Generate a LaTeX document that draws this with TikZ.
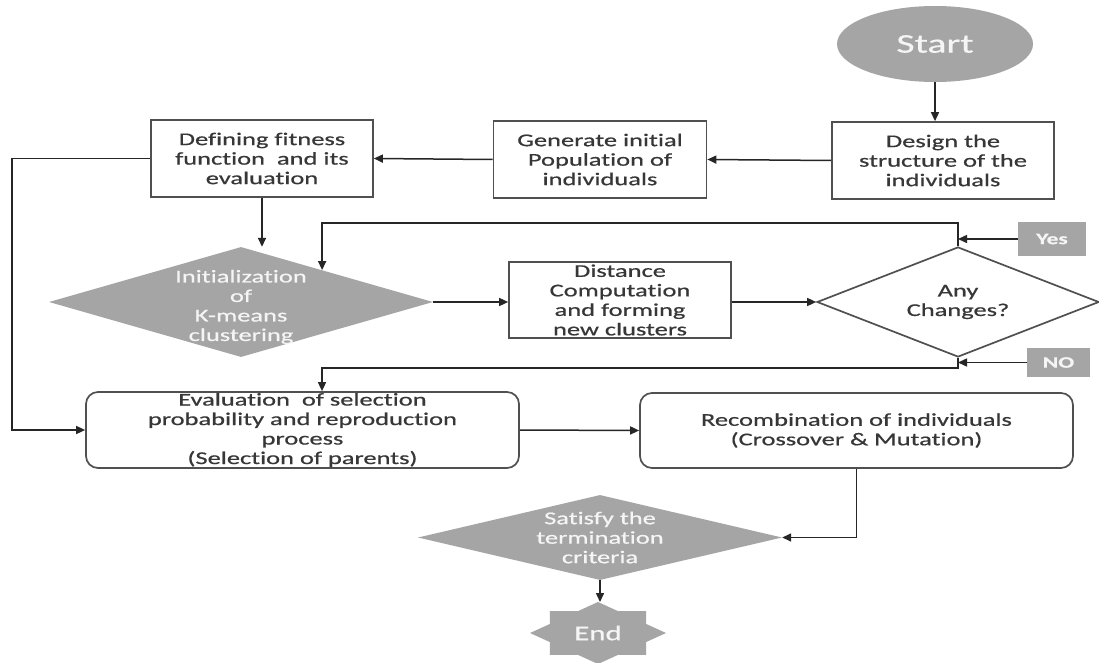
\documentclass[tikz,border=0pt]{standalone}
\usepackage{fontspec}
\setmainfont{Carlito}[FakeStretch=1.47,FakeBold=0.6,Ligatures={NoCommon}]
\usetikzlibrary{shapes.geometric,arrows.meta,calc}
\definecolor{gfill}{RGB}{165,165,165}
\definecolor{bline}{RGB}{80,80,80}
\definecolor{cline}{RGB}{38,38,38}
\definecolor{btext}{RGB}{55,55,55}
\definecolor{wtext}{RGB}{245,245,245}
\begin{document}
\begin{tikzpicture}[x=1pt,y=-1pt,
 box/.style={draw=bline, line width=1.7pt, fill=white, rectangle, inner sep=0pt, align=center, text=btext, font=\fontsize{18}{19.5}\selectfont},
 rbox/.style={box, rounded corners=12pt},
 dia/.style={diamond, inner sep=0pt},
 gdia/.style={dia, fill=gfill},
 wdia/.style={dia, draw=bline, line width=1.7pt, fill=white},
 dlab/.style={align=center, font=\fontsize{18}{19.5}\selectfont, text=wtext},
 blab/.style={align=center, font=\fontsize{18}{19.5}\selectfont, text=btext},
 tag/.style={rectangle, fill=gfill, text=wtext, inner sep=0pt, font=\fontsize{16}{17}\selectfont\bfseries},
 arr/.style={draw=cline, line width=1.5pt, -{Triangle[length=9pt,width=8pt]}},
 ln/.style={draw=cline, line width=1.5pt}
]
\useasboundingbox (0,0) rectangle (1099,663);
\fill[white] (0,0) rectangle (1099,663);

% top row
\node[ellipse, fill=gfill, minimum width=196pt, minimum height=76pt, inner sep=0pt,
      text=wtext, font=\fontsize{27}{29}\selectfont] (start) at (935,44) {Start};
\node[box, minimum width=222pt, minimum height=77pt] (design) at (943,160.5)
  {Design the\\structure of the\\individuals};
\node[box, minimum width=213pt, minimum height=77pt] (generate) at (600,159.5)
  {Generate initial\\Population of\\individuals};
\node[box, minimum width=222pt, minimum height=77pt] (defining) at (262,158.5)
  {Defining fitness\\function~~and its\\evaluation};

% middle row
\node[gdia, minimum width=384pt, minimum height=110pt,
      label={[dlab, yshift=-5pt]center:{Initialization\\of\\K-means\\clustering}}] (init) at (241,302) {};
\node[box, minimum width=222pt, minimum height=76pt] (dist) at (620,300)
  {Distance\\Computation\\and forming\\new clusters};
\node[wdia, minimum width=282pt, minimum height=110pt,
      label={[blab]center:{Any\\Changes?}}] (any) at (958,302) {};
\node[tag, minimum width=68pt, minimum height=34pt] (yes) at (1052,239) {Yes};
\node[tag, minimum width=63pt, minimum height=29pt] (no) at (1058.5,362.5) {NO};

% lower row
\node[rbox, minimum width=433pt, minimum height=76pt] (eval) at (302.5,430)
  {Evaluation~~of selection\\probability and reproduction\\process\\(Selection of parents)};
\node[rbox, minimum width=433pt, minimum height=75pt] (recomb) at (856.5,430.5)
  {Recombination of individuals\\(Crossover \& Mutation)};
\node[gdia, minimum width=364pt, minimum height=85pt,
      label={[dlab]center:{Satisfy the\\termination\\criteria}}] (satisfy) at (600,537.5) {};

% end star
\fill[gfill] (666,633) \foreach \k in {1,...,15} {
  -- ({598+68*(1-0.235*mod(\k,2))*cos(22.5*\k)},{633+31*(1-0.235*mod(\k,2))*sin(22.5*\k)}) } -- cycle;
\node[text=wtext, font=\fontsize{21}{23}\selectfont, inner sep=0pt] (endn) at (598,633) {End};
\coordinate (endtop) at (598,602);

% helper coordinates
\coordinate (lftc) at (12,0);
\coordinate (yline) at (0,223);
\coordinate (nline) at (0,368);
\coordinate (nx) at (322,0);
\coordinate (yend) at ($(init.north)!0.422!(init.east)$);

% connectors
\draw[arr] (start.south) -- (start.south |- design.north);
\draw[arr] (design.west) -- (generate.east);
\draw[arr] (generate.west) -- (defining.east);
\draw[arr] (defining.south) -- (defining.south |- init.north);
\draw[arr] (defining.west) -| (lftc |- eval.west) -- (eval.west);
\draw[arr] (init.east) -- (init.east -| dist.west);
\draw[arr] (any.west -| dist.east) -- (any.west);
\draw[arr] (any.north) |- (yend |- yline) -- (yend);
\draw[arr] (yes.west) -- (yes.west -| any.north);
\draw[arr] (any.south) |- (nx |- nline) -- (nx |- eval.north);
\draw[arr] (no.west) -- (no.west -| any.south);
\draw[arr] (eval.east) -- (recomb.west);
\draw[arr] (recomb.south) |- (satisfy.east);
\draw[arr] (satisfy.south) -- (satisfy.south |- endtop);
\end{tikzpicture}
\end{document}
